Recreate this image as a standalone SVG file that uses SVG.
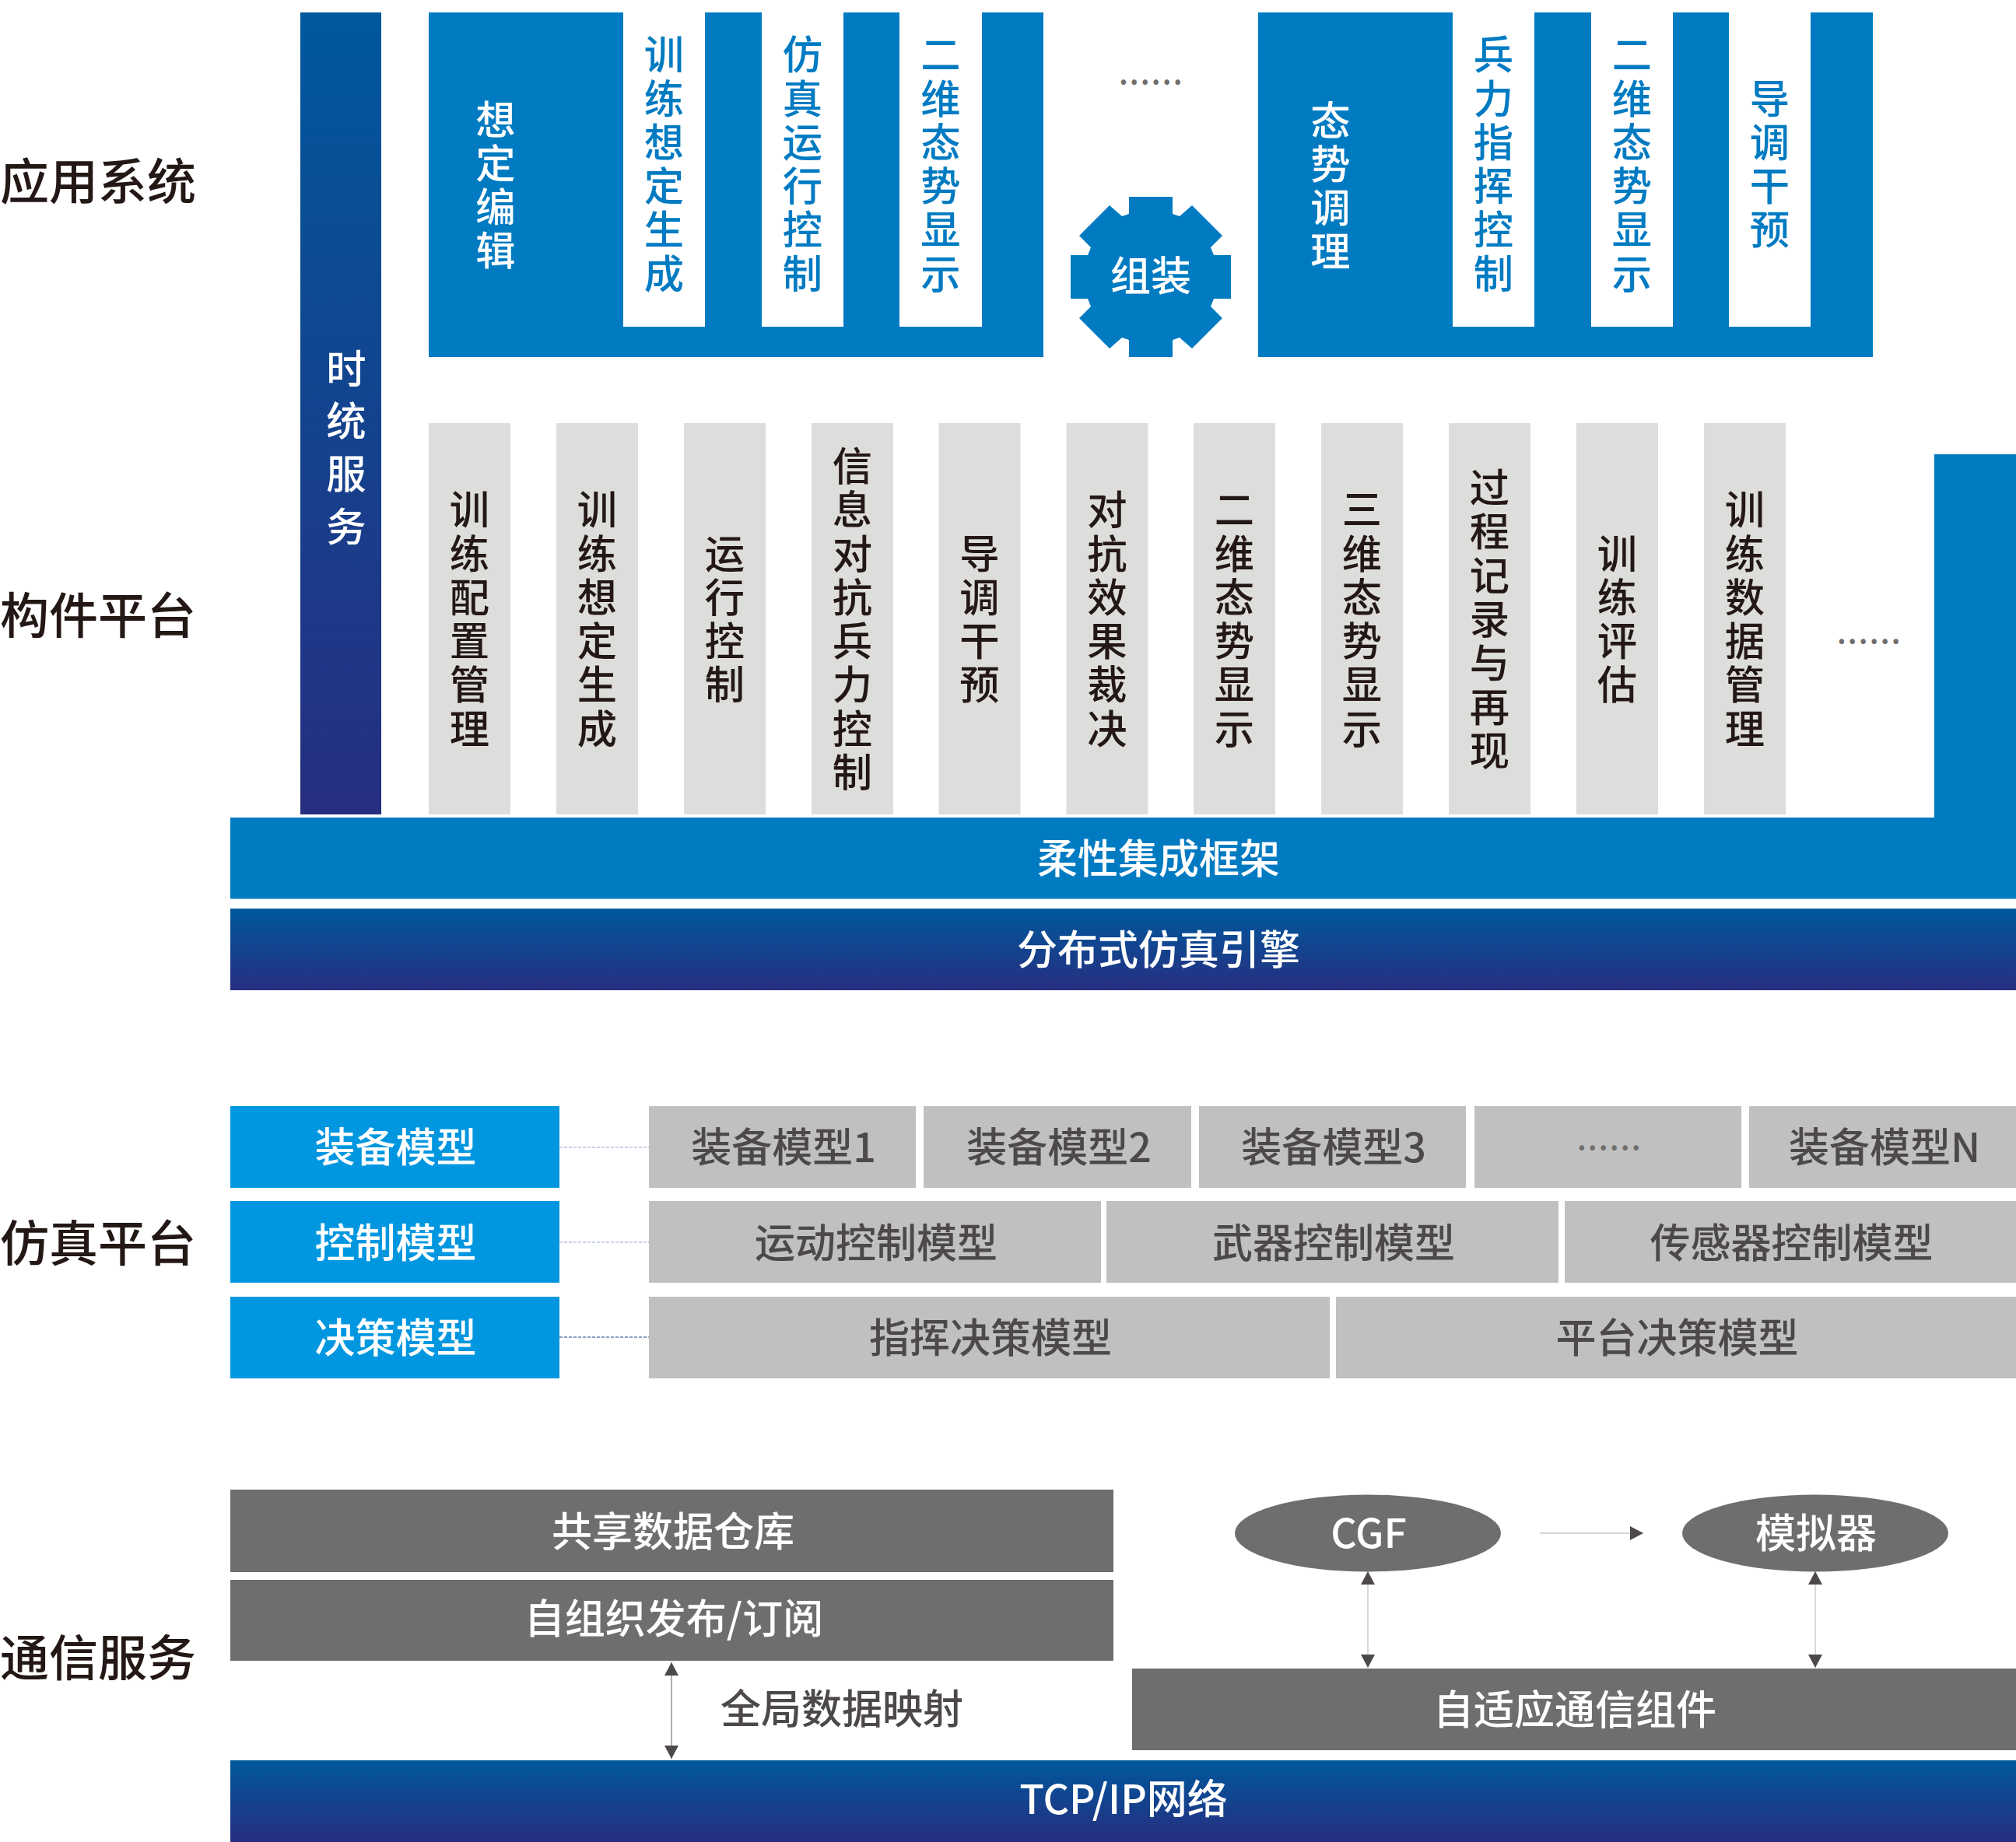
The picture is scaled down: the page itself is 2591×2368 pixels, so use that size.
<svg xmlns="http://www.w3.org/2000/svg" width="2591" height="2368" viewBox="0 0 2591 2368">
<style>
text{font-family:"Noto Sans CJK SC","Noto Sans",sans-serif;font-size:52px;font-weight:500;text-anchor:middle}
.w{fill:#fff}.d{fill:#4c4948}.k{fill:#231815}.b{fill:#007bc2}
.layer{font-size:63px;text-anchor:start;fill:#231815}
.v{writing-mode:vertical-rl;text-orientation:upright;letter-spacing:5px;font-size:51.3px}
.dots{fill:#6f6e6c;font-size:48px;font-weight:400;letter-spacing:0.6px}
.blue{fill:#007bc2}.col{fill:#dddddc}.model{fill:#0097e0}.g1{fill:#c0c0c0}.slot{fill:#fff}.dark{fill:#6f6e6c}
.dash{stroke-width:1.4;stroke-dasharray:4 2;fill:none}
.arrow{stroke-width:1.4;fill:none;marker-start:url(#head);marker-end:url(#head)}
</style>
<defs>
<linearGradient id="navyV" x1="0" y1="0" x2="0" y2="1"><stop offset="0" stop-color="#00589c"/><stop offset="1" stop-color="#272e80"/></linearGradient>
<marker id="head" markerUnits="userSpaceOnUse" markerWidth="18" markerHeight="18" refX="17" refY="9" orient="auto-start-reverse"><path d="M0 0L17 9L0 18Z" fill="#4c4948"/></marker>
</defs>
<rect width="2591" height="2368" fill="#fff"/>

<g id="layer-labels">
<text class="layer" x="0" y="256">应用系统</text>
<text class="layer" x="0" y="814">构件平台</text>
<text class="layer" x="0" y="1621">仿真平台</text>
<text class="layer" x="0" y="2154">通信服务</text>
</g>

<g id="time-service">
<rect x="386" y="16" width="104" height="1031" fill="url(#navyV)"/>
<text class="v w" x="445" y="583" style="letter-spacing:16.5px">时统服务</text>
</g>

<g id="app-training">
<rect class="blue" x="551" y="16" width="790" height="443"/>
<rect class="slot" x="801" y="16" width="105" height="404"/>
<rect class="slot" x="979" y="16" width="105" height="404"/>
<rect class="slot" x="1156" y="16" width="106" height="404"/>
<text class="v w" x="637" y="240">想定编辑</text>
<text class="v b" x="853.5" y="213">训练想定生成</text>
<text class="v b" x="1031.5" y="213">仿真运行控制</text>
<text class="v b" x="1209" y="213">二维态势显示</text>
</g>

<g id="app-dots"><text class="dots" x="1479" y="108">......</text></g>

<g id="assemble-gear">
<polygon class="blue" points="1451,253 1507,253 1507,275 1516,278 1532,264 1571,303 1556,318 1560,328 1582,328 1582,384 1560,384 1556,394 1571,409 1532,448 1516,434 1507,437 1507,459 1451,459 1451,437 1442,434 1426,448 1387,409 1402,394 1398,384 1376,384 1376,328 1398,328 1402,318 1387,303 1426,264 1442,278 1451,275"/>
<text class="w" x="1479" y="374">组装</text>
</g>

<g id="app-situation">
<rect class="blue" x="1617" y="16" width="790" height="443"/>
<rect class="slot" x="1867" y="16" width="105" height="404"/>
<rect class="slot" x="2045" y="16" width="105" height="404"/>
<rect class="slot" x="2222" y="16" width="105" height="404"/>
<text class="v w" x="1710" y="241">态势调理</text>
<text class="v b" x="1919.5" y="213">兵力指挥控制</text>
<text class="v b" x="2097.5" y="213">二维态势显示</text>
<text class="v b" x="2274.5" y="213">导调干预</text>
</g>

<g id="components">
<rect class="col" x="551" y="544" width="105" height="503"/>
<rect class="col" x="715" y="544" width="105" height="503"/>
<rect class="col" x="879" y="544" width="105" height="503"/>
<rect class="col" x="1043" y="544" width="105" height="503"/>
<rect class="col" x="1206.500" y="544" width="105" height="503"/>
<rect class="col" x="1370.500" y="544" width="105" height="503"/>
<rect class="col" x="1534" y="544" width="105" height="503"/>
<rect class="col" x="1698" y="544" width="105" height="503"/>
<rect class="col" x="1862" y="544" width="105" height="503"/>
<rect class="col" x="2026" y="544" width="105" height="503"/>
<rect class="col" x="2190" y="544" width="105" height="503"/>
<text class="v k" x="603.5" y="798">训练配置管理</text>
<text class="v k" x="767.5" y="798">训练想定生成</text>
<text class="v k" x="931.5" y="798">运行控制</text>
<text class="v k" x="1095.5" y="798">信息对抗兵力控制</text>
<text class="v k" x="1259" y="798">导调干预</text>
<text class="v k" x="1423" y="798">对抗效果裁决</text>
<text class="v k" x="1586.5" y="798">二维态势显示</text>
<text class="v k" x="1750.5" y="798">三维态势显示</text>
<text class="v k" x="1914.5" y="798">过程记录与再现</text>
<text class="v k" x="2078.5" y="798">训练评估</text>
<text class="v k" x="2242.5" y="798">训练数据管理</text>
<text class="dots" x="2402" y="827">......</text>
</g>

<g id="flex-framework">
<path class="blue" d="M2486 584H2591V1155.500H296V1051H2486Z"/>
<text class="w" x="1489" y="1123">柔性集成框架</text>
</g>
<g id="sim-engine">
<rect x="296" y="1168" width="2295" height="105" fill="url(#navyV)"/>
<text class="w" x="1489" y="1240">分布式仿真引擎</text>
</g>

<g id="connectors">
<path class="dash" stroke="#b7c5db" d="M719 1475H834M719 1597H834"/>
<path class="dash" stroke="#5f7dac" d="M719 1719H834"/>
<line class="arrow" stroke="#8a8a8a" x1="863" y1="2137" x2="863" y2="2261"/>
<line class="arrow" stroke="#c9c9c9" x1="1758" y1="2020" x2="1758" y2="2144"/>
<line class="arrow" stroke="#c9c9c9" x1="2333" y1="2020" x2="2333" y2="2144"/>
<line stroke="#c9c9c9" stroke-width="1.4" marker-end="url(#head)" x1="1979" y1="1971" x2="2112" y2="1971"/>
</g>

<g id="equipment-models">
<rect class="model" x="296" y="1422" width="423" height="105"/>
<text class="w" x="508.5" y="1494">装备模型</text>
<rect class="g1" x="834" y="1422" width="343" height="105"/>
<rect class="g1" x="1187" y="1422" width="344" height="105"/>
<rect class="g1" x="1541" y="1422" width="343" height="105"/>
<rect class="g1" x="1895" y="1422" width="343" height="105"/>
<rect class="g1" x="2248" y="1422" width="343" height="105"/>
<text class="d" x="1007" y="1494">装备模型1</text>
<text class="d" x="1361" y="1494">装备模型2</text>
<text class="d" x="1714" y="1494">装备模型3</text>
<text class="dots" x="2068" y="1478">......</text>
<text class="d" x="2422" y="1494">装备模型N</text>
</g>

<g id="control-models">
<rect class="model" x="296" y="1544" width="423" height="105"/>
<text class="w" x="508.5" y="1617">控制模型</text>
<rect class="g1" x="834" y="1544" width="581" height="105"/>
<rect class="g1" x="1422" y="1544" width="581" height="105"/>
<rect class="g1" x="2011" y="1544" width="580" height="105"/>
<text class="d" x="1126" y="1617">运动控制模型</text>
<text class="d" x="1714" y="1617">武器控制模型</text>
<text class="d" x="2302.500" y="1617">传感器控制模型</text>
</g>

<g id="decision-models">
<rect class="model" x="296" y="1667" width="423" height="105"/>
<text class="w" x="508.5" y="1739">决策模型</text>
<rect class="g1" x="834" y="1667" width="875" height="105"/>
<rect class="g1" x="1717" y="1667" width="874" height="105"/>
<text class="d" x="1273" y="1739">指挥决策模型</text>
<text class="d" x="2155.500" y="1739">平台决策模型</text>
</g>

<g id="shared-store">
<rect class="dark" x="296" y="1915" width="1135" height="106"/>
<text class="w" x="865" y="1988">共享数据仓库</text>
</g>
<g id="pubsub">
<rect class="dark" x="296" y="2031" width="1135" height="104"/>
<text class="w" x="866" y="2100">自组织发布/订阅</text>
</g>
<g id="global-map"><text class="d" x="1082" y="2216">全局数据映射</text></g>
<g id="cgf">
<ellipse class="dark" cx="1758" cy="1971" rx="171" ry="49.5"/>
<text class="w" x="1759" y="1990">CGF</text>
</g>
<g id="simulator">
<ellipse class="dark" cx="2333" cy="1971" rx="171" ry="49.5"/>
<text class="w" x="2334" y="1990">模拟器</text>
</g>
<g id="adaptive-comm">
<rect class="dark" x="1455" y="2145" width="1136" height="105"/>
<text class="w" x="2024" y="2217">自适应通信组件</text>
</g>
<g id="tcp-ip">
<rect x="296" y="2263" width="2295" height="105" fill="url(#navyV)"/>
<text class="w" x="1444" y="2332">TCP/IP网络</text>
</g>
</svg>
